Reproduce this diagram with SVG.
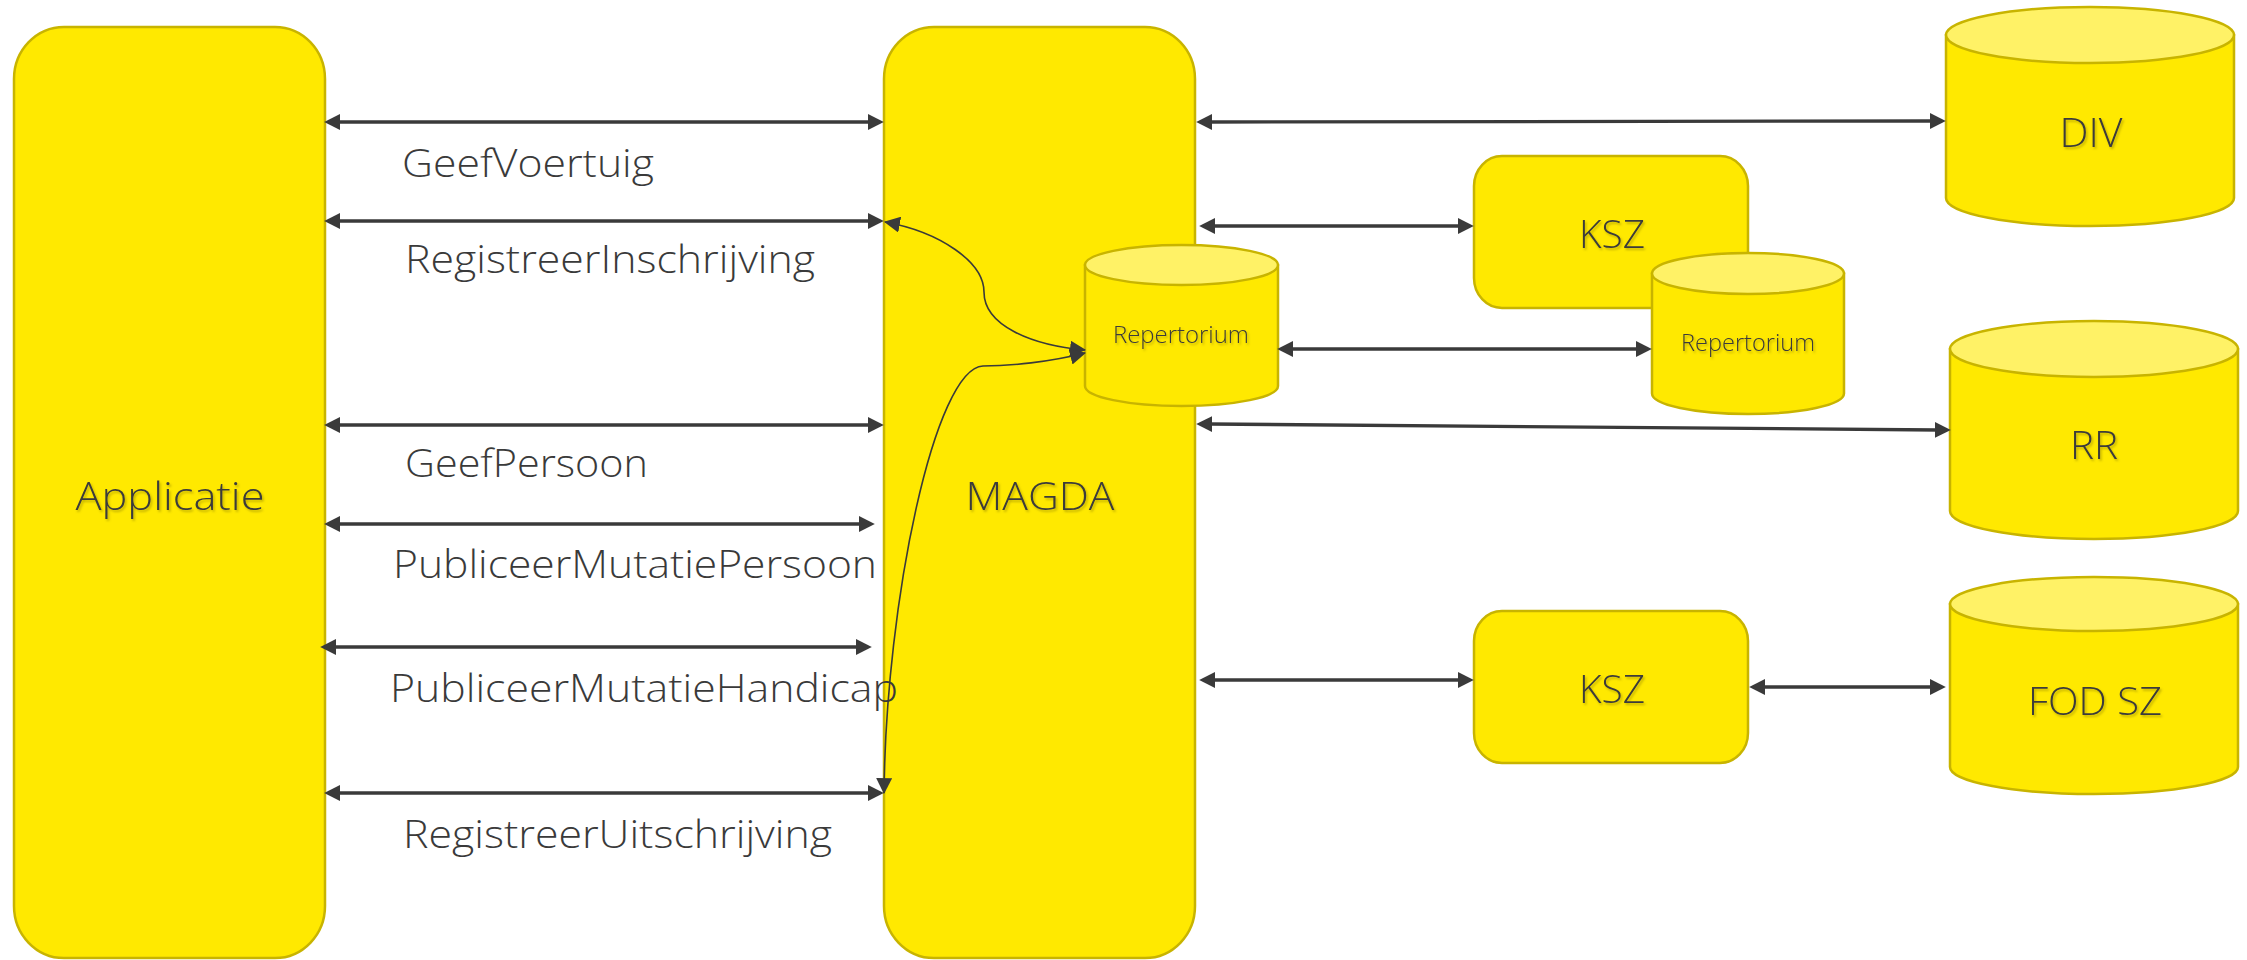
<svg xmlns="http://www.w3.org/2000/svg" width="2247" height="960" viewBox="0 0 2247 960">
<style>
.box{fill:#FFE900;stroke:#C8B400;stroke-width:2.5}
.top{fill:#FFF266;stroke:#C8B400;stroke-width:2.5}
.lbl{font-family:"Open Sans","Liberation Sans",sans-serif;font-weight:300;font-size:39px;fill:#3a3a3a}
.nl{font-family:"Open Sans","Liberation Sans",sans-serif;font-weight:300;fill:#3a3a3a;text-anchor:middle;filter:url(#sh)}
.ar{stroke:#3a3a3a;stroke-width:3.3;fill:none;marker-start:url(#ah);marker-end:url(#ah)}
.cv{stroke:#3a3a3a;stroke-width:1.6;fill:none}
</style>
<defs>
<marker id="ah" markerUnits="userSpaceOnUse" markerWidth="16" markerHeight="16" refX="3" refY="7.5" orient="auto-start-reverse" viewBox="0 0 15 15">
<path d="M0,0 L15,7.5 L0,15 z" fill="#3a3a3a"/>
</marker>
<marker id="ch" markerUnits="userSpaceOnUse" markerWidth="16" markerHeight="16" refX="14" refY="7.5" orient="auto-start-reverse" viewBox="0 0 15 15">
<path d="M0,0 L15,7.5 L0,15 z" fill="#3a3a3a"/>
</marker>
<filter id="sh" x="-10%" y="-20%" width="120%" height="150%">
<feDropShadow dx="1.5" dy="2" stdDeviation="1.2" flood-color="#7a6e00" flood-opacity="0.45"/>
</filter>
</defs>

<g id="applicatie">
<rect class="box" x="14" y="27" width="311" height="931" rx="50" ry="52"/>
<text class="nl" x="170" y="510" font-size="39" textLength="189" lengthAdjust="spacingAndGlyphs">Applicatie</text>
</g>

<g id="magda">
<rect class="box" x="884" y="27" width="311" height="931" rx="50" ry="52"/>
<text class="nl" x="1040" y="510" font-size="39" textLength="149" lengthAdjust="spacingAndGlyphs">MAGDA</text>
</g>

<g id="repertorium-magda">
<path class="box" d="M1085,265 L1085,386 A96.5,20 0 0 0 1278,386 L1278,265 Z"/>
<ellipse class="top" cx="1181.5" cy="265" rx="96.5" ry="20"/>
<text class="nl" x="1181" y="343" font-size="23" textLength="136" lengthAdjust="spacingAndGlyphs">Repertorium</text>
</g>

<g id="ksz1">
<rect class="box" x="1474" y="156" width="274" height="152" rx="28" ry="30"/>
<text class="nl" x="1612" y="248" font-size="39" textLength="66" lengthAdjust="spacingAndGlyphs">KSZ</text>
</g>

<g id="repertorium-ksz">
<path class="box" d="M1652,273.5 L1652,393.5 A96,20.5 0 0 0 1844,393.5 L1844,273.5 Z"/>
<ellipse class="top" cx="1748" cy="273.5" rx="96" ry="20.5"/>
<text class="nl" x="1748" y="351" font-size="23" textLength="134" lengthAdjust="spacingAndGlyphs">Repertorium</text>
</g>

<g id="div">
<path class="box" d="M1946,35 L1946,198 A144,28 0 0 0 2234,198 L2234,35 Z"/>
<ellipse class="top" cx="2090" cy="35" rx="144" ry="28"/>
<text class="nl" x="2091" y="147" font-size="41" textLength="63" lengthAdjust="spacingAndGlyphs">DIV</text>
</g>

<g id="rr">
<path class="box" d="M1950,349 L1950,511 A144,28 0 0 0 2238,511 L2238,349 Z"/>
<ellipse class="top" cx="2094" cy="349" rx="144" ry="28"/>
<text class="nl" x="2094" y="459" font-size="39" textLength="48" lengthAdjust="spacingAndGlyphs">RR</text>
</g>

<g id="ksz2">
<rect class="box" x="1474" y="611" width="274" height="152" rx="28" ry="30"/>
<text class="nl" x="1612" y="703" font-size="39" textLength="66" lengthAdjust="spacingAndGlyphs">KSZ</text>
</g>

<g id="fodsz">
<path class="box" d="M1950,604 L1950,767 A144,27 0 0 0 2238,767 L2238,604 Z"/>
<ellipse class="top" cx="2094" cy="604" rx="144" ry="27"/>
<text class="nl" x="2095" y="715" font-size="39" textLength="134" lengthAdjust="spacingAndGlyphs">FOD SZ</text>
</g>

<g id="connectors">
<line class="ar" x1="337" y1="122" x2="871" y2="122"/>
<line class="ar" x1="337" y1="221" x2="871" y2="221"/>
<line class="ar" x1="337" y1="425" x2="871" y2="425"/>
<line class="ar" x1="337" y1="524" x2="862" y2="524"/>
<line class="ar" x1="333" y1="647" x2="859" y2="647"/>
<line class="ar" x1="337" y1="793" x2="871" y2="793"/>

<line class="ar" x1="1209" y1="122" x2="1933" y2="121"/>
<line class="ar" x1="1212" y1="226" x2="1461" y2="226"/>
<line class="ar" x1="1290" y1="349" x2="1639" y2="349"/>
<line class="ar" x1="1209" y1="424" x2="1938" y2="430"/>
<line class="ar" x1="1212" y1="680" x2="1461" y2="680"/>
<line class="ar" x1="1762" y1="687" x2="1933" y2="687"/>

<path class="cv" marker-start="url(#ch)" marker-end="url(#ch)" d="M885,222 C940,232 984,262 984,292 C984,325 1030,345 1085,350"/>
<path class="cv" marker-start="url(#ch)" marker-end="url(#ch)" d="M1085,353 C1050,362 1010,366 983,366 C935,368 886,600 884,793"/>
</g>

<g id="labels">
<text class="lbl" x="402" y="177" textLength="252" lengthAdjust="spacingAndGlyphs">GeefVoertuig</text>
<text class="lbl" x="405" y="273" textLength="410" lengthAdjust="spacingAndGlyphs">RegistreerInschrijving</text>
<text class="lbl" x="405" y="477" textLength="243" lengthAdjust="spacingAndGlyphs">GeefPersoon</text>
<text class="lbl" x="393" y="578" textLength="484" lengthAdjust="spacingAndGlyphs">PubliceerMutatiePersoon</text>
<text class="lbl" x="390" y="702" textLength="508" lengthAdjust="spacingAndGlyphs">PubliceerMutatieHandicap</text>
<text class="lbl" x="403" y="848" textLength="429" lengthAdjust="spacingAndGlyphs">RegistreerUitschrijving</text>
</g>
</svg>
